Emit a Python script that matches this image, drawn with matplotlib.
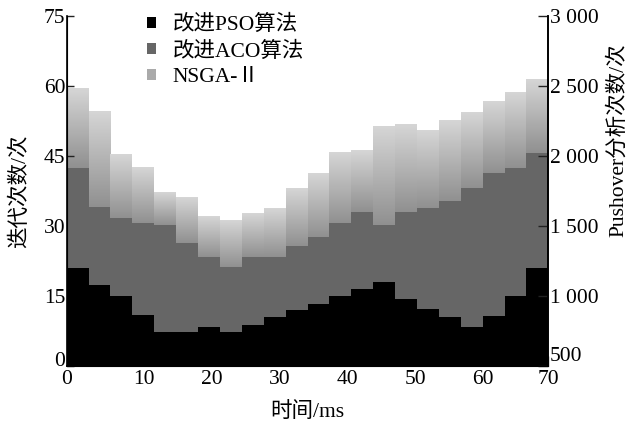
import matplotlib
matplotlib.use('Agg')
import matplotlib.pyplot as plt
import numpy as np
from matplotlib.patches import Patch
from matplotlib.colors import LinearSegmentedColormap

plt.rcParams['font.family'] = ['Liberation Serif', 'Noto Sans CJK SC']

# ---- data ----
series_names = ['改进PSO算法', '改进ACO算法', 'NSGA-Ⅱ']
pso = [20.9, 17.3, 15.0, 10.9, 7.2, 7.2, 8.4, 7.2, 8.7, 10.6, 11.9,
       13.3, 15.1, 16.5, 17.9, 14.3, 12.2, 10.6, 8.4, 10.8, 15.0, 20.9]
aco = [42.4, 34.0, 31.8, 30.6, 30.2, 26.4, 23.4, 21.3, 23.4, 23.4, 25.7,
       27.7, 30.6, 32.9, 30.3, 33.1, 33.9, 35.4, 38.2, 41.4, 42.4, 45.6]
nsga = [59.4, 54.4, 45.5, 42.4, 37.2, 36.2, 32.0, 31.3, 32.7, 33.8, 38.1,
        41.4, 45.6, 46.1, 51.4, 51.9, 50.6, 52.7, 54.4, 56.8, 58.6, 61.3]
x_tick_labels = ['0', '10', '20', '30', '40', '50', '60', '70']
left_ticks = [0, 15, 30, 45, 60, 75]
right_ticks = [500, 1000, 1500, 2000, 2500, 3000]
right_tick_labels = ['500', '1 000', '1 500', '2 000', '2 500', '3 000']

FS = 15.5
fig = plt.figure(figsize=(6.36, 4.21), dpi=100)
ax = fig.add_axes([0.1049, 0.1306, 0.7572, 0.8314])

xmin, xmax = -1.45, 69.6
edges = np.linspace(xmin, xmax, len(pso) + 1)
width = edges[1] - edges[0]
centers = edges[:-1] + width / 2

c_pso, c_aco, c_nsga = '#000000', '#666666', '#aaaaaa'

# NSGA gradient bars
cmap = LinearSegmentedColormap.from_list('g', ['#909090', '#d6d6d6'])
grad = np.linspace(0, 1, 256).reshape(-1, 1)
for xc, a, n in zip(centers, aco, nsga):
    ax.imshow(grad, extent=(xc - width / 2, xc + width / 2, a, n), origin='lower',
              cmap=cmap, aspect='auto', zorder=1, interpolation='bilinear')
ax.bar(centers, aco, width=width, color=c_aco, linewidth=0, zorder=2)
ax.bar(centers, pso, width=width, color=c_pso, linewidth=0, zorder=3)

ax.set_xlim(xmin, xmax)
ax.set_ylim(0, 75)
ax.set_xticks([xmin, 10, 20, 30, 40, 50, 60, xmax])
ax.set_xticklabels(x_tick_labels, fontsize=FS)
ax.set_yticks(left_ticks)
ax.set_yticklabels([str(t) for t in left_ticks], fontsize=FS)
ax.tick_params(axis='x', direction='in', length=7, width=1, color='#444444', pad=3)
ax.tick_params(axis='y', direction='in', length=5, width=1, color='#222222', pad=1)
ax.spines['top'].set_visible(False)
for s in ['left', 'right', 'bottom']:
    ax.spines[s].set_linewidth(1.2)
    ax.spines[s].set_zorder(5)
ax.get_yticklabels()[0].set_verticalalignment('baseline')

ax2 = ax.twinx()
ax2.set_ylim(500, 3000)
ax2.set_yticks(right_ticks)
ax2.set_yticklabels(right_tick_labels, fontsize=FS)
ax2.tick_params(axis='y', direction='in', length=7, width=1, color='#222222', pad=1)
ax2.spines['top'].set_visible(False)
ax2.spines['right'].set_linewidth(1.2)
ax2.get_yticklabels()[0].set_verticalalignment('bottom')

ax.set_xlabel('时间/ms', fontsize=FS, labelpad=9)
ax.set_ylabel('迭代次数/次', fontsize=FS)
ax.yaxis.set_label_coords(-0.076, 0.5)
ax2.set_ylabel('Pushover分析次数/次', fontsize=FS)
ax2.yaxis.set_label_coords(1.124, 0.645)

handles = [Patch(facecolor=c, edgecolor='none') for c in (c_pso, c_aco, c_nsga)]
fig.legend(handles, series_names, loc='upper left', bbox_to_anchor=(0.231, 0.965),
           frameon=False, fontsize=FS, handlelength=0.4, handleheight=0.4,
           handletextpad=0.8, labelspacing=0.3, borderaxespad=0, borderpad=0)

fig.savefig('out.png', dpi=100)
